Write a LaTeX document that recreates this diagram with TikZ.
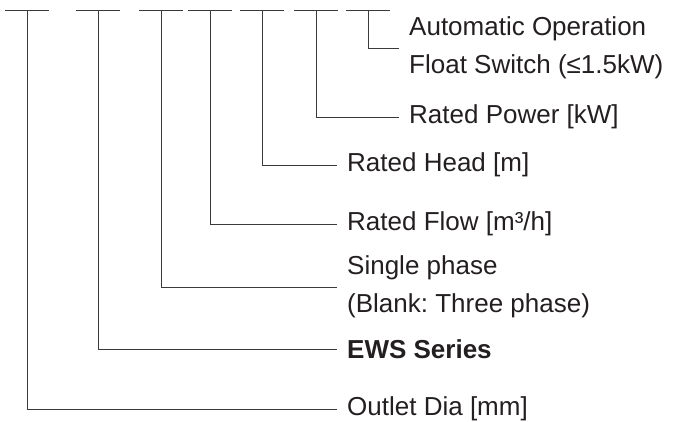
\documentclass[tikz,border=0pt]{standalone}
\usepackage{fontspec}
\setmainfont{Liberation Sans}
\frenchspacing
\definecolor{linegray}{HTML}{3A3A3A}
\definecolor{textgray}{HTML}{231F20}
\tikzset{
  code/.style={draw=linegray, line width=1pt},
  lbl/.style={anchor=west, inner sep=0pt, align=left, text=textgray,
    font=\fontsize{26}{38}\selectfont},
}
\begin{document}
\begin{tikzpicture}[x=1pt,y=-1pt]
\useasboundingbox (0,0) rectangle (675,421);
% one dash for each part of the code
\coordinate (dia) at (27,10);
\coordinate (ser) at (98,10);
\coordinate (pha) at (161,10);
\coordinate (flo) at (210,10);
\coordinate (hea) at (262,10);
\coordinate (pow) at (316,10);
\coordinate (swi) at (368,10);
\draw[code] ([xshift=-22pt]dia) -- ([xshift=22pt]dia);
\draw[code] ([xshift=-22pt]ser) -- ([xshift=22pt]ser);
\draw[code] ([xshift=-22pt]pha) -- ([xshift=22pt]pha);
\draw[code] ([xshift=-22pt]flo) -- ([xshift=22pt]flo);
\draw[code] ([xshift=-22pt]hea) -- ([xshift=22pt]hea);
\draw[code] ([xshift=-22pt]pow) -- ([xshift=22pt]pow);
\draw[code] ([xshift=-22pt]swi) -- ([xshift=22pt]swi);
% labels
\node[lbl] (swil) at (409,48) {Automatic Operation\\Float Switch (≤1.5kW)};
\node[lbl] (powl) at (409,117) {Rated Power [kW]};
\node[lbl] (heal) at (347,165) {Rated Head [m]};
\node[lbl] (flol) at (347,224) {Rated Flow [m³/h]};
\node[lbl] (phal) at (347,287) {Single phase\\(Blank: Three phase)};
\node[lbl] (serl) at (347,349) {\bfseries EWS Series};
\node[lbl] (dial) at (347,409) {Outlet Dia [mm]};
% leaders
\draw[code] (swi) |- ([xshift=-10pt]swil.west);
\draw[code] (pow) |- ([xshift=-10pt]powl.west);
\draw[code] (hea) |- ([xshift=-10pt]heal.west);
\draw[code] (flo) |- ([xshift=-10pt]flol.west);
\draw[code] (pha) |- ([xshift=-10pt]phal.west);
\draw[code] (ser) |- ([xshift=-10pt]serl.west);
\draw[code] (dia) |- ([xshift=-10pt]dial.west);
\end{tikzpicture}
\end{document}
